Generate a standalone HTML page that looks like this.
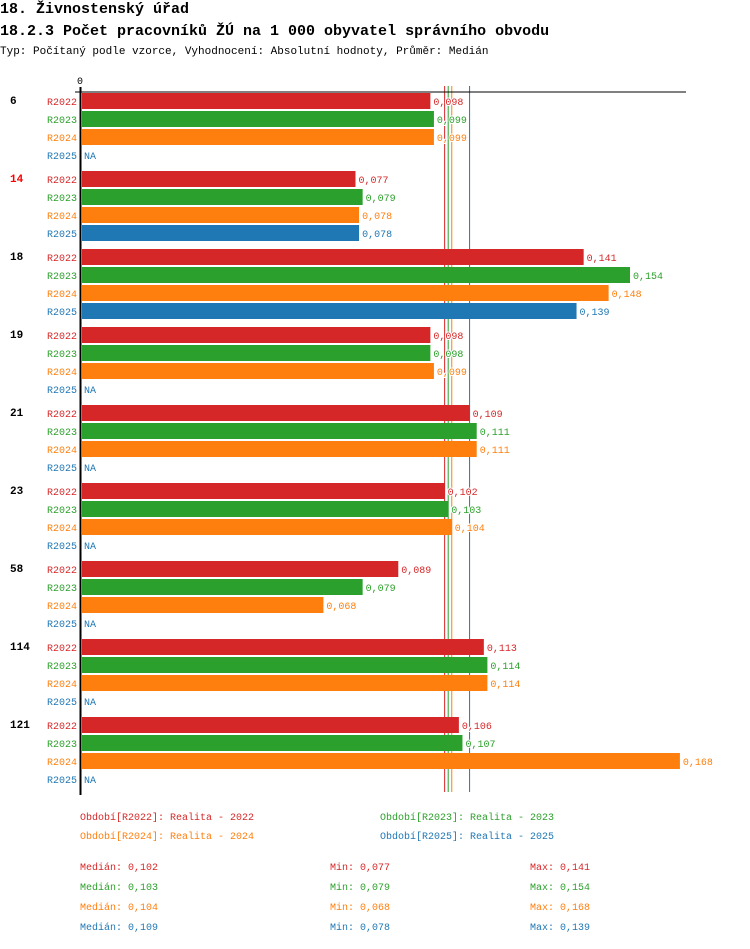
<!DOCTYPE html>
<html><head><meta charset="utf-8"><style>
body{margin:0;background:#fff;width:750px;height:944px;overflow:hidden}
svg text{font-family:"Liberation Mono",monospace}
</style></head><body>
<svg width="750" height="944" xmlns="http://www.w3.org/2000/svg">
<text x="0" y="13" font-size="15" font-weight="bold">18. Živnostenský úřad</text>
<text x="0" y="35" font-size="15" font-weight="bold">18.2.3 Počet pracovníků ŽÚ na 1 000 obyvatel správního obvodu</text>
<text x="0" y="54" font-size="11">Typ: Počítaný podle vzorce, Vyhodnocení: Absolutní hodnoty, Průměr: Medián</text>
<g id="plot"></g>
</svg>
<script>
const categories=["6","14","18","19","21","23","58","114","121"];
const highlighted=["14"];
const series=["R2022","R2023","R2024","R2025"];
const colors=["#d62728","#2ca02c","#ff7f0e","#1f77b4"];
const v2022=[0.098,0.077,0.141,0.098,0.109,0.102,0.089,0.113,0.106];
const v2023=[0.099,0.079,0.154,0.098,0.111,0.103,0.079,0.114,0.107];
const v2024=[0.099,0.078,0.148,0.099,0.111,0.104,0.068,0.114,0.168];
const v2025=[null,0.078,0.139,null,null,null,null,null,null];
const medians=[0.102,0.103,0.104,0.109];
const mins=[0.077,0.079,0.068,0.078];
const maxs=[0.141,0.154,0.168,0.139];
const NS="http://www.w3.org/2000/svg";
const g=document.getElementById('plot');
const x=v=>81+v*3565;
const fmt=v=>v.toFixed(3).replace('.',',');
function mk(t,a,txt){const e=document.createElementNS(NS,t);for(const k in a)e.setAttribute(k,a[k]);if(txt!=null)e.textContent=txt;g.appendChild(e);return e;}
const vals=[v2022,v2023,v2024,v2025];
const top0=92,gstep=78,rstep=18;
medians.forEach((m,i)=>{
 const l=mk('line',{x1:x(m),x2:x(m),y1:86,y2:792,stroke:colors[i],'stroke-width':1});
 
 
});
categories.forEach((c,ci)=>{
 const gy=top0+ci*gstep;
 const gl=mk('text',{x:10,y:gy+12,'font-size':11,'font-weight':'bold',fill:highlighted.includes(c)?'#ff0000':'#000'},c);
 
 
 series.forEach((s,si)=>{
  const y=gy+1+si*rstep;
  const sl=mk('text',{x:77,y:y+12,'font-size':10,fill:colors[si],'text-anchor':'end'},s);
  
  
  const v=vals[si][ci];
  if(v==null){
   const na=mk('text',{x:84,y:y+12,'font-size':10,fill:colors[si]},'NA');
   
   
  }else{
   const r=mk('rect',{x:82,y:y,width:x(v)-82,height:16,fill:colors[si]});
   
   
   const t=mk('text',{x:x(v)+3,y:y+12,'font-size':10,fill:colors[si],stroke:'#fff','stroke-width':2,'paint-order':'stroke'},fmt(v));
   
   
  }
 });
});
const ax=mk('line',{x1:75,x2:686,y1:92,y2:92,stroke:'#000','stroke-width':1});


const ay=mk('line',{x1:80.5,x2:80.5,y1:87,y2:795,stroke:'#000','stroke-width':2});


const z=mk('text',{x:80,y:84,'font-size':10,'text-anchor':'middle'},'0');


const lx=[80,380,80,380];
const lyy=[820,820,839,839];
series.forEach((s,i)=>{
 const t=mk('text',{x:lx[i],y:lyy[i],'font-size':10,fill:colors[i]},'Období['+s+']: Realita - '+s.slice(1));
 
 
 const yy=870+i*20;
 const a=mk('text',{x:80,y:yy,'font-size':10,fill:colors[i]},'Medián: '+fmt(medians[i]));
 
 
 const b=mk('text',{x:330,y:yy,'font-size':10,fill:colors[i]},'Min: '+fmt(mins[i]));
 
 
 const d=mk('text',{x:530,y:yy,'font-size':10,fill:colors[i]},'Max: '+fmt(maxs[i]));
 
 
});
</script>
</body></html>
